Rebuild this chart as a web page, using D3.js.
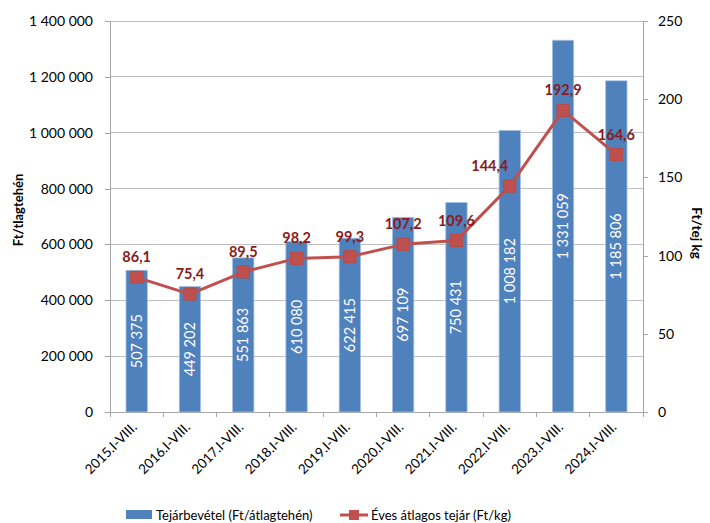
<!DOCTYPE html>
<html><head><meta charset="utf-8">
<script src="https://cdn.jsdelivr.net/npm/d3@7"></script>
<style>
body{margin:0;background:#fff;}
svg{font-family:Lato,"Open Sans",sans-serif;}
</style></head>
<body><svg id="c" width="710" height="523"></svg>
<script>
const categories = ["2015.I-VIII.","2016.I-VIII.","2017.I-VIII.","2018.I-VIII.","2019.I-VIII.","2020.I-VIII.","2021.I-VIII.","2022.I-VIII.","2023.I-VIII.","2024.I-VIII."];
const revenue = [507375,449202,551863,610080,622415,697109,750431,1008182,1331059,1185806];
const milkPrice = [86.1,75.4,89.5,98.2,99.3,107.2,109.6,144.4,192.9,164.6];
const leftTicks = [0,200000,400000,600000,800000,1000000,1200000,1400000];
const rightTicks = [0,50,100,150,200,250];
const seriesNames = ["Tejárbevétel (Ft/átlagtehén)","Éves átlagos tejár (Ft/kg)"];
const axisTitles = ["Ft/tlagtehén","Ft/tej kg"];

const svg = d3.select("#c");
const m = {l:110, r:643, t:21, b:412};
const x = d3.scaleBand().domain(categories).range([m.l,m.r]).paddingInner(0.6).paddingOuter(0.3);
const xb = d3.scaleBand().domain(categories).range([m.l,m.r]);
const yL = d3.scaleLinear().domain([0,1400000]).range([m.b,m.t]);
const yR = d3.scaleLinear().domain([0,250]).range([m.b,m.t]);
const fmtSp = v => d3.format(",")(v).replace(/,/g," ");
const fmtDec = v => d3.format(".1f")(v).replace(".",",");
const axisCol = "#A6A6A6";

// gridlines
svg.append("g").selectAll("line").data(leftTicks.filter(d=>d>0)).join("line")
  .attr("x1",m.l).attr("x2",m.r).attr("y1",d=>yL(d)).attr("y2",d=>yL(d))
  .attr("stroke","#BFBFBF").attr("stroke-width",1).attr("shape-rendering","crispEdges");

// left axis
const gL = svg.append("g").attr("transform",`translate(${m.l},0)`)
  .call(d3.axisLeft(yL).tickValues(leftTicks).tickFormat(fmtSp).tickSizeOuter(0).tickSize(5).tickPadding(12));
// right axis
const gR = svg.append("g").attr("transform",`translate(${m.r},0)`)
  .call(d3.axisRight(yR).tickValues(rightTicks).tickSizeOuter(0).tickSize(5).tickPadding(10));
// bottom axis
const gB = svg.append("g").attr("transform",`translate(0,${m.b})`)
  .call(d3.axisBottom(xb).tickValues([]).tickSizeOuter(0));
gB.selectAll(".tk").data(d3.range(categories.length+1)).join("line").attr("class","tk")
  .attr("x1",i=>m.l+i*xb.step()).attr("x2",i=>m.l+i*xb.step()).attr("y1",0).attr("y2",5)
  .attr("stroke",axisCol).attr("shape-rendering","crispEdges");
[gL,gR,gB].forEach(g=>{
  g.selectAll("path,line").attr("stroke",axisCol).attr("shape-rendering","crispEdges");
  g.selectAll("text").attr("fill","#000").style("font-size","14px").style("font-family","Lato,sans-serif");
});

// x labels
svg.append("g").selectAll("text").data(categories).join("text")
  .attr("transform",d=>`translate(${xb(d)+xb.bandwidth()/2+1},${m.b+16}) rotate(-45)`)
  .attr("text-anchor","end").attr("font-size","13.5px").attr("fill","#000").text(d=>d);

// bars
svg.append("g").selectAll("rect").data(revenue).join("rect")
  .attr("x",(d,i)=>x(categories[i])).attr("width",x.bandwidth())
  .attr("y",d=>yL(d)).attr("height",d=>m.b-yL(d))
  .attr("fill","#4F81BD").attr("stroke","#A7C0DE").attr("stroke-width",0.8);
// bar labels
svg.append("g").selectAll("text").data(revenue).join("text")
  .attr("transform",(d,i)=>`translate(${x(categories[i])+x.bandwidth()/2+5},${(yL(d)+m.b)/2}) rotate(-90)`)
  .attr("text-anchor","middle").attr("fill","#fff").attr("font-size","14.5px").text(fmtSp);

// line
const cx = i => xb(categories[i])+xb.bandwidth()/2;
const line = d3.line().x((d,i)=>cx(i)).y(d=>yR(d));
svg.append("path").datum(milkPrice).attr("d",line).attr("fill","none")
  .attr("stroke","#C0504D").attr("stroke-width",3).attr("stroke-linejoin","round");
svg.append("g").selectAll("rect").data(milkPrice).join("rect")
  .attr("x",(d,i)=>cx(i)-6).attr("y",d=>yR(d)-6).attr("width",12).attr("height",12)
  .attr("fill","#C0504D").attr("stroke","#B64A47").attr("stroke-width",1);
const labelShift = {"2022.I-VIII.":-20};
svg.append("g").selectAll("text").data(milkPrice).join("text")
  .attr("x",(d,i)=>cx(i)+(labelShift[categories[i]]||0)).attr("y",d=>yR(d)-15)
  .attr("text-anchor","middle").attr("fill","#8B1A1A").attr("font-weight","bold")
  .attr("font-size","14.5px").text(fmtDec);

// axis titles
svg.append("text").attr("transform","translate(23,210) rotate(-90)").attr("text-anchor","middle")
  .attr("font-weight","bold").attr("font-size","13px").text(axisTitles[0]);
svg.append("text").attr("transform","translate(692,233) rotate(90)").attr("text-anchor","middle")
  .attr("font-weight","bold").attr("font-size","13.5px").text(axisTitles[1]);

// legend
const lg = svg.append("g");
lg.append("rect").attr("x",126).attr("y",510).attr("width",26).attr("height",9).attr("fill","#4F81BD");
lg.append("text").attr("x",156).attr("y",520).attr("font-size","13px").text(seriesNames[0]);
lg.append("line").attr("x1",340).attr("x2",368).attr("y1",515).attr("y2",515).attr("stroke","#C0504D").attr("stroke-width",3);
lg.append("rect").attr("x",349).attr("y",510).attr("width",10).attr("height",10).attr("fill","#C0504D");
lg.append("text").attr("x",371).attr("y",520).attr("font-size","13px").text(seriesNames[1]);
</script></body></html>
